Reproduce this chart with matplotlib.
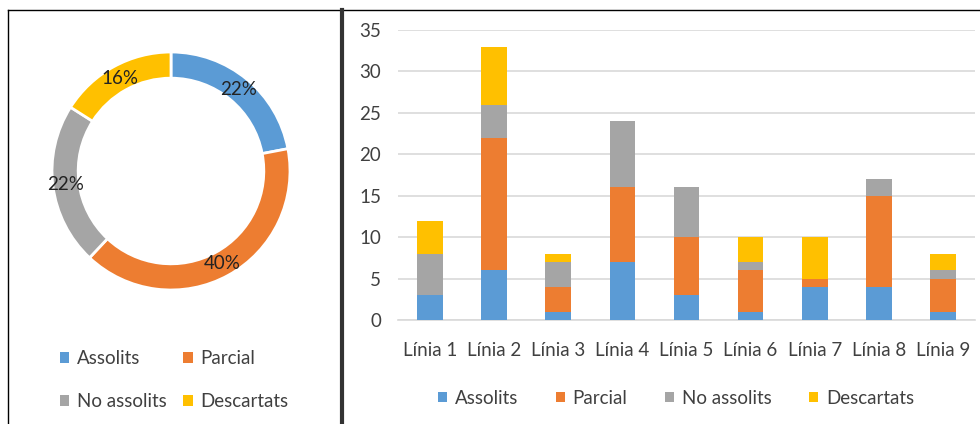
import numpy as np
import matplotlib.pyplot as plt
from matplotlib.lines import Line2D
from matplotlib.patches import Patch

plt.rcParams['font.family'] = ['Lato', 'DejaVu Sans']

series = ['Assolits', 'Parcial', 'No assolits', 'Descartats']
colors = ['#5B9BD5', '#ED7D31', '#A5A5A5', '#FFC000']

# donut shares (%)
donut_pct = [22, 40, 22, 16]

# stacked bars per line
lines = ['Línia 1', 'Línia 2', 'Línia 3', 'Línia 4', 'Línia 5',
         'Línia 6', 'Línia 7', 'Línia 8', 'Línia 9']
assolits = [3, 6, 1, 7, 3, 1, 4, 4, 1]
parcial = [0, 16, 3, 9, 7, 5, 1, 11, 4]
no_assolits = [5, 4, 3, 8, 6, 1, 0, 2, 1]
descartats = [4, 7, 1, 0, 0, 3, 5, 0, 2]

W, H = 980, 424
fig = plt.figure(figsize=(W / 100, H / 100), dpi=100)
txt = '#404040'
fs = 13.5

# ---- donut ----
cx, cy, r = 171, 171, 119
axd = fig.add_axes([(cx - r) / W, (H - cy - r) / H, 2 * r / W, 2 * r / H])
wedges, _ = axd.pie(donut_pct, colors=colors, startangle=90, counterclock=False,
                    radius=1, wedgeprops=dict(width=0.22, edgecolor='white', linewidth=2))
mid_r = 1 - 0.11
ang0 = 90
for p in donut_pct:
    a = np.deg2rad(ang0 - p * 3.6 / 2)
    axd.text(mid_r * np.cos(a), mid_r * np.sin(a), f'{p}%', ha='center', va='center',
             fontsize=fs, color='#222222')
    ang0 -= p * 3.6
axd.set_xlim(-1, 1)
axd.set_ylim(-1, 1)

handles = [Patch(facecolor=c, label=s) for c, s in zip(colors, series)]
fig.legend(handles=[handles[0], handles[2], handles[1], handles[3]], ncol=2,
           loc='center', bbox_to_anchor=(174 / W, 1 - 380 / H), frameon=False,
           fontsize=fs, handlelength=0.5, handleheight=0.5, handletextpad=0.4,
           columnspacing=0.9, labelspacing=1.4, labelcolor=txt)

# ---- stacked bars ----
ax = fig.add_axes([398 / W, 1 - 320 / H, 577 / W, 290 / H])
x = np.arange(len(lines))
bottom = np.zeros(len(lines))
for vals, c, s in zip([assolits, parcial, no_assolits, descartats], colors, series):
    ax.bar(x, vals, 0.4, bottom=bottom, color=c, label=s, zorder=3)
    bottom += np.array(vals)
ax.set_xlim(-0.5, len(lines) - 0.5)
ax.set_ylim(0, 35)
ax.set_yticks(range(0, 36, 5))
ax.set_xticks(x)
ax.set_xticklabels(lines)
ax.grid(axis='y', color='#D9D9D9', linewidth=1.2, zorder=0)
for sp in ['top', 'right', 'left']:
    ax.spines[sp].set_visible(False)
ax.spines['bottom'].set_color('#D9D9D9')
ax.spines['bottom'].set_linewidth(1.2)
ax.tick_params(length=0, labelsize=fs, colors=txt)
ax.tick_params(axis='x', pad=16)
ax.tick_params(axis='y', pad=12)
fig.legend(handles=handles, ncol=4, loc='center', bbox_to_anchor=(676 / W, 1 - 398 / H),
           frameon=False, fontsize=fs, handlelength=0.5, handleheight=0.5,
           handletextpad=0.4, columnspacing=2.0, labelcolor=txt)

# ---- frame lines ----
fig.add_artist(Line2D([8 / W, 1], [1 - 10 / H] * 2, color='black', linewidth=1))
fig.add_artist(Line2D([8 / W] * 2, [0, 1 - 10 / H], color='black', linewidth=1))
fig.add_artist(Line2D([342 / W] * 2, [0, 1 - 10 / H], color='#333333', linewidth=3))

fig.savefig('out.png', dpi=100)
